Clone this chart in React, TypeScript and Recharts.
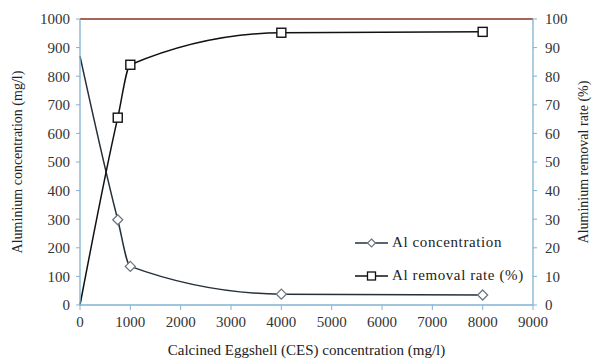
import React from 'react';
import { ComposedChart, Line, XAxis, YAxis, ReferenceLine } from 'recharts';

const cesDose = [0, 750, 1000, 4000, 8000];
const alConcentration = [870, 298, 135, 38, 35];
const alRemovalRate = [0, 65.5, 84, 95.2, 95.5];
const xTicks = [0, 1000, 2000, 3000, 4000, 5000, 6000, 7000, 8000, 9000];
const leftTicks = [0, 100, 200, 300, 400, 500, 600, 700, 800, 900, 1000];
const rightTicks = [0, 10, 20, 30, 40, 50, 60, 70, 80, 90, 100];
const seriesNames = ['Al concentration', 'Al removal rate (%)'];

const data = cesDose.map((x, i) => ({ x, conc: alConcentration[i], rate: alRemovalRate[i] }));

const FONT = '"Liberation Serif", "Times New Roman", serif';
const AXIS = '#7fb3d3';
const TEXT = '#333';
const CONC = '#26303a';
const RATE = '#111';

const Diamond = (props: any) => {
  const { cx, cy, index } = props;
  if (index === 0 || cx == null) return <g key={index} />;
  const s = 5;
  return (
    <path key={index} d={`M${cx},${cy - s}L${cx + s},${cy}L${cx},${cy + s}L${cx - s},${cy}Z`}
      fill="#fff" stroke="#6d7780" strokeWidth={1.3} />
  );
};

const Square = (props: any) => {
  const { cx, cy, index } = props;
  if (index === 0 || cx == null) return <g key={index} />;
  const s = 4.5;
  return <rect key={index} x={cx - s} y={cy - s} width={2 * s} height={2 * s} fill="#fff" stroke={RATE} strokeWidth={1.4} />;
};

const LegendBox = () => (
  <div style={{ position: 'absolute', left: 355, top: 226, fontFamily: FONT, fontSize: 15, color: '#222' }}>
    <div style={{ display: 'flex', alignItems: 'center', height: 33 }}>
      <svg width={37} height={14}>
        <line x1={0} y1={7} x2={33} y2={7} stroke={CONC} strokeWidth={1.5} />
        <path d="M16.5,3L20.5,7L16.5,11L12.5,7Z" fill="#fff" stroke="#6d7780" strokeWidth={1.2} />
      </svg>
      <span style={{ letterSpacing: 0.6 }}>{seriesNames[0]}</span>
    </div>
    <div style={{ display: 'flex', alignItems: 'center', height: 33 }}>
      <svg width={37} height={14}>
        <line x1={0} y1={7} x2={33} y2={7} stroke={RATE} strokeWidth={1.5} />
        <rect x={12.5} y={3} width={8} height={8} fill="#fff" stroke={RATE} strokeWidth={1.3} />
      </svg>
      <span style={{ letterSpacing: 0.6 }}>{seriesNames[1]}</span>
    </div>
  </div>
);

const tickStyle = { fill: TEXT, fontFamily: FONT, fontSize: 15 };
const labelStyle = { fill: '#222', fontFamily: FONT };

export default function App() {
  return (
    <div style={{ position: 'absolute', left: 0, top: 0, width: 593, height: 360, background: '#fff', fontFamily: FONT }}>
      <ComposedChart width={593} height={360} data={data} style={{ fontFamily: FONT }}
        margin={{ top: 19, right: 0, bottom: 5, left: 10 }}>
        <XAxis type="number" dataKey="x" domain={[0, 9000]} ticks={xTicks} interval={0} height={50}
          axisLine={{ stroke: AXIS, strokeWidth: 1.3 }} tickLine={{ stroke: AXIS }} tickSize={5} tickMargin={6}
          tick={tickStyle} fontFamily={FONT} fontSize={15}
          label={{ value: 'Calcined Eggshell (CES)  concentration (mg/l)', position: 'insideBottom', offset: 0, fontSize: 15, ...labelStyle }} />
        <YAxis yAxisId="left" type="number" domain={[0, 1000]} ticks={leftTicks} interval={0} width={70}
          axisLine={{ stroke: AXIS, strokeWidth: 1.3 }} tickLine={{ stroke: AXIS }} tickSize={4} tickMargin={6}
          tick={tickStyle} fontFamily={FONT} fontSize={15}
          label={{ value: 'Aluminium  concentration (mg/l)', angle: -90, position: 'insideLeft', offset: 7, fontSize: 14, ...labelStyle, style: { textAnchor: 'middle', fontFamily: FONT } }} />
        <YAxis yAxisId="right" orientation="right" type="number" domain={[0, 100]} ticks={rightTicks} interval={0} width={60}
          axisLine={{ stroke: AXIS, strokeWidth: 1.3 }} tickLine={{ stroke: AXIS }} tickSize={4} tickMargin={8}
          tick={tickStyle} fontFamily={FONT} fontSize={15}
          label={{ value: 'Aluminium  removal rate (%)', angle: -90, position: 'insideRight', offset: 10, fontSize: 14, ...labelStyle, style: { textAnchor: 'middle', fontFamily: FONT } }} />
        <ReferenceLine yAxisId="left" y={1000} stroke="#8a3324" strokeWidth={1.6} />
        <Line yAxisId="left" dataKey="conc" name={seriesNames[0]} type="monotoneX" stroke={CONC} strokeWidth={1.5}
          dot={<Diamond />} activeDot={false} isAnimationActive={false} />
        <Line yAxisId="right" dataKey="rate" name={seriesNames[1]} type="monotoneX" stroke={RATE} strokeWidth={1.5}
          dot={<Square />} activeDot={false} isAnimationActive={false} />
      </ComposedChart>
      <LegendBox />
    </div>
  );
}
